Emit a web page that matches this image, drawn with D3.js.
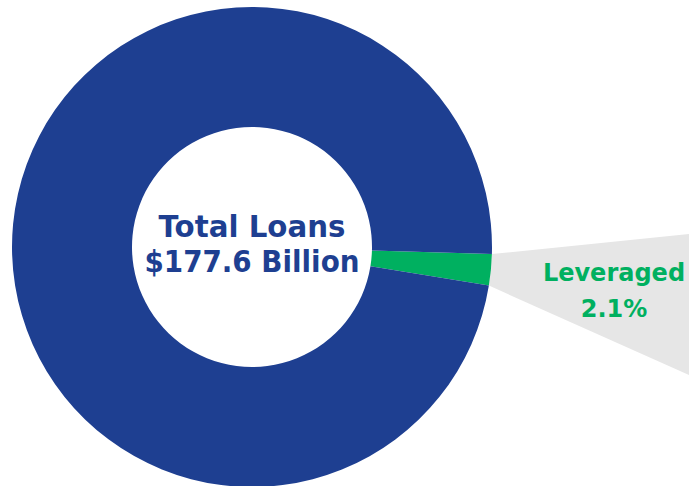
<!DOCTYPE html>
<html>
<head>
<meta charset="utf-8">
<script src="https://cdn.jsdelivr.net/npm/d3@7"></script>
<style>
  html, body { margin: 0; padding: 0; background: #fff; }
  svg { display: block; }
  text { font-family: "DejaVu Sans", sans-serif; font-weight: bold; }
</style>
</head>
<body>
<svg id="chart" width="689" height="486"></svg>
<script>
// Loan portfolio composition
const categories = ["Leveraged", "Other"];
const shares = [2.1, 97.9];
const colors = ["#00b060", "#1e3f91"];
const centerTitle = ["Total Loans", "$177.6 Billion"];

const width = 689, height = 486;
const cx = 252, cy = 247;
const outerR = 240, innerR = 120;
const startDeg = 91.7; // leveraged slice begins just below 3 o'clock

const svg = d3.select("#chart");

const pie = d3.pie()
  .value(d => d.value)
  .sort(null)
  .startAngle(startDeg * Math.PI / 180)
  .endAngle(startDeg * Math.PI / 180 + 2 * Math.PI);

const data = categories.map((c, i) => ({ name: c, value: shares[i], color: colors[i] }));
const arcs = pie(data);
const arc = d3.arc().innerRadius(innerR).outerRadius(outerR);

// callout wedge fanning out from the leveraged slice
const lev = arcs[0];
const pt = a => [cx + outerR * Math.sin(a), cy - outerR * Math.cos(a)];
const p0 = pt(lev.startAngle), p1 = pt(lev.endAngle);
svg.append("path")
  .attr("d", d3.line()([p0, [width, 234], [width, 375], p1]) + "Z")
  .attr("fill", "#e6e6e6");

const g = svg.append("g").attr("transform", `translate(${cx},${cy})`);
g.selectAll("path.slice")
  .data(arcs)
  .join("path")
  .attr("class", "slice")
  .attr("d", arc)
  .attr("fill", d => d.data.color);

// centre label
const titleWidths = [187, 215];
g.selectAll("text.title")
  .data(centerTitle)
  .join("text")
  .attr("class", "title")
  .attr("x", 0)
  .attr("y", (d, i) => i === 0 ? -10 : 25)
  .attr("text-anchor", "middle")
  .attr("fill", colors[1])
  .attr("font-size", 31)
  .attr("textLength", (d, i) => titleWidths[i])
  .attr("lengthAdjust", "spacingAndGlyphs")
  .text(d => d);

// callout label
const lx = 614;
svg.append("text")
  .attr("x", lx).attr("y", 281)
  .attr("text-anchor", "middle")
  .attr("fill", colors[0])
  .attr("font-size", 24)
  .text(categories[0]);
svg.append("text")
  .attr("x", lx).attr("y", 317)
  .attr("text-anchor", "middle")
  .attr("fill", colors[0])
  .attr("font-size", 24)
  .text(d3.format(".1f")(shares[0]) + "%");
</script>
</body>
</html>
